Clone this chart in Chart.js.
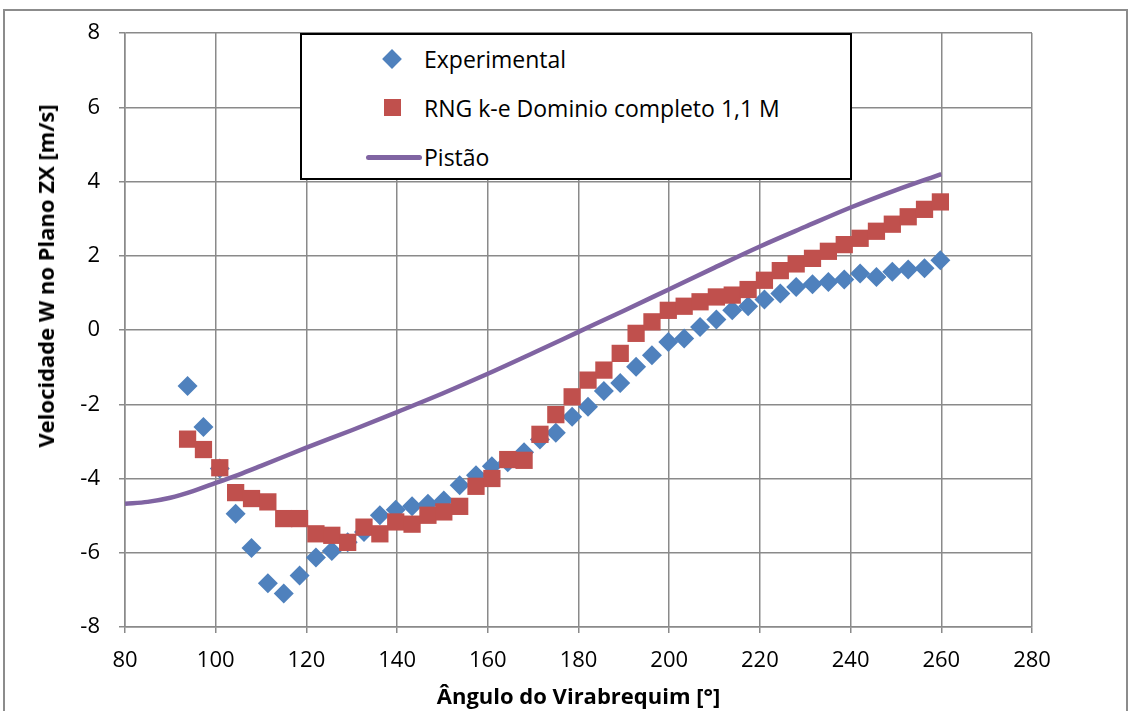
<!DOCTYPE html>
<html>
<head>
<meta charset="utf-8">
<script src="https://cdn.jsdelivr.net/npm/chart.js@4.4.0/dist/chart.umd.min.js"></script>
<style>
body { margin:0; width:1129px; height:711px; background:#fff; overflow:hidden; position:relative; font-family:'Open Sans', sans-serif; }
#moldura { position:absolute; left:3px; top:9px; width:1121px; height:720px; border:2px solid #8c8c8c; border-bottom:none; }
#grafico { position:absolute; left:0; top:0; }
#tituloY { position:absolute; left:45px; top:276px; transform:translate(-50%,-50%) rotate(-90deg); white-space:nowrap; font-weight:bold; font-size:22px; color:#000; }
#legenda { position:absolute; left:300px; top:33px; width:548px; height:143px; border:2px solid #000; background:#fff; }
.item { position:absolute; left:0; height:30px; font-size:23px; line-height:30px; color:#000; }
.item span { position:absolute; left:122px; white-space:nowrap; }
.losango { position:absolute; left:83px; top:8px; width:14px; height:14px; background:#4F81BD; transform:rotate(45deg); }
.quadrado { position:absolute; left:82px; top:6px; width:17px; height:17px; background:#C0504D; }
.linha { position:absolute; left:64px; top:13px; width:56px; height:5px; border-radius:3px; background:#8064A2; }
</style>
</head>
<body>
<div id="moldura"></div>
<canvas id="grafico" width="1129" height="711"></canvas>
<div id="tituloY">Velocidade W no Plano ZX [m/s]</div>
<div id="legenda">
  <div class="item" style="top:9px"><div class="losango"></div><span>Experimental</span></div>
  <div class="item" style="top:58px"><div class="quadrado"></div><span>RNG k-e Dominio completo 1,1 M</span></div>
  <div class="item" style="top:107px"><div class="linha"></div><span>Pistão</span></div>
</div>
<script>
// angulo do virabrequim (graus) dos pontos medidos / simulados
const angulos = [93.8, 97.3, 100.9, 104.4, 107.9, 111.5, 115.0, 118.5, 122.1, 125.6,
  129.1, 132.7, 136.2, 139.7, 143.3, 146.8, 150.3, 153.8, 157.4, 160.9,
  164.4, 168.0, 171.5, 175.0, 178.6, 182.1, 185.6, 189.2, 192.7, 196.2,
  199.8, 203.3, 206.8, 210.4, 213.9, 217.4, 221.0, 224.5, 228.0, 231.6,
  235.1, 238.6, 242.1, 245.7, 249.2, 252.7, 256.3, 259.8]

const experimental = [-1.51, -2.61, -3.73, -4.95, -5.87, -6.82, -7.10, -6.61, -6.13, -5.95,
  -5.72, -5.44, -4.99, -4.84, -4.75, -4.68, -4.59, -4.18, -3.91, -3.67,
  -3.56, -3.29, -2.95, -2.77, -2.34, -2.07, -1.64, -1.43, -0.99, -0.68,
  -0.32, -0.23, 0.08, 0.28, 0.53, 0.64, 0.82, 0.98, 1.16, 1.23,
  1.29, 1.36, 1.52, 1.43, 1.57, 1.63, 1.66, 1.88]

const rngKe = [-2.94, -3.22, -3.71, -4.38, -4.54, -4.63, -5.08, -5.08, -5.49, -5.53,
  -5.72, -5.31, -5.49, -5.17, -5.23, -4.99, -4.90, -4.75, -4.21, -4.00,
  -3.49, -3.51, -2.81, -2.28, -1.80, -1.35, -1.08, -0.63, -0.09, 0.22,
  0.53, 0.64, 0.76, 0.89, 0.94, 1.09, 1.34, 1.60, 1.78, 1.93,
  2.12, 2.30, 2.47, 2.66, 2.85, 3.05, 3.25, 3.45]

const angulosPistao = [80, 85, 90, 95, 100, 105, 110, 120, 130, 140, 150, 160, 170, 180, 190, 200, 210, 220, 230, 240, 250, 260]
const pistao = [-4.68, -4.63, -4.52, -4.34, -4.12, -3.90, -3.66, -3.17, -2.70, -2.21, -1.71, -1.18, -0.62, -0.05, 0.52, 1.10, 1.68, 2.25, 2.78, 3.30, 3.77, 4.20]

const limitesX = [80, 280]
const limitesY = [-8, 8]

function pares(xs, ys) {
  return xs.map((x, i) => ({ x: x, y: ys[i] }))
}

Chart.defaults.font.family = "'Open Sans', sans-serif"
Chart.defaults.color = '#000'

const corGrade = '#8a8a8a'

var ctx = document.getElementById('grafico').getContext('2d')
new Chart(ctx, {
  type: 'scatter',
  data: {
    datasets: [{
        label: 'Pistão',
        type: 'line',
        data: pares(angulosPistao, pistao),
        borderColor: '#8064A2',
        borderWidth: 4.5,
        pointRadius: 0,
        fill: false,
        cubicInterpolationMode: 'monotone',
        order: 0
      },
      {
        label: 'RNG k-e Dominio completo 1,1 M',
        data: pares(angulos, rngKe),
        pointStyle: 'rect',
        pointRadius: 12.2,
        backgroundColor: '#C0504D',
        borderColor: '#C0504D',
        borderWidth: 0,
        order: 1
      },
      {
        label: 'Experimental',
        data: pares(angulos, experimental),
        pointStyle: 'rectRot',
        pointRadius: 10,
        backgroundColor: '#4F81BD',
        borderColor: '#4F81BD',
        borderWidth: 0,
        order: 2
      }]
  },
  options: {
    responsive: false,
    animation: false,
    layout: { padding: { left: 0, right: 97, top: 33, bottom: 0 } },
    plugins: {
      legend: { display: false },
      tooltip: { enabled: false }
    },
    scales: {
      x: {
        type: 'linear',
        min: limitesX[0],
        max: limitesX[1],
        ticks: { stepSize: 20, font: { size: 22 }, padding: 15, maxRotation: 0 },
        grid: { color: corGrade, lineWidth: 1.5, tickLength: 6, tickColor: corGrade },
        border: { color: corGrade, width: 1.5 },
        title: { display: true, text: 'Ângulo do Virabrequim [°]', font: { size: 22, weight: 'bold' }, padding: 0 },
        afterFit: (scale) => { scale.height = 84 }
      },
      y: {
        min: limitesY[0],
        max: limitesY[1],
        ticks: { stepSize: 2, font: { size: 22 }, padding: 19 },
        grid: { color: corGrade, lineWidth: 1.5, tickLength: 6, tickColor: corGrade },
        border: { color: corGrade, width: 1.5 },
        afterFit: (scale) => { scale.width = 125 }
      }
    }
  }
})
</script>
</body>
</html>
